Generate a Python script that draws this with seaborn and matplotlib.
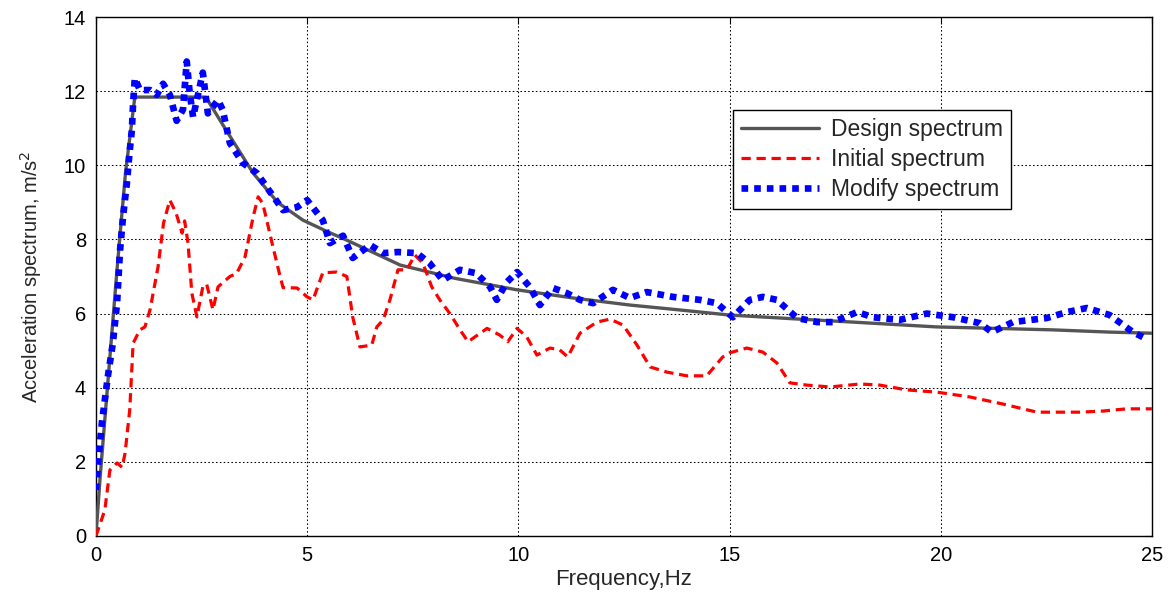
import matplotlib
matplotlib.use("Agg")
import matplotlib.pyplot as plt
import seaborn as sns
import pandas as pd

# Design spectrum
design_f = [0.0, 0.1, 0.3, 0.5, 0.7, 0.92, 1.5, 2.0, 2.6, 3.0, 3.72, 4.3, 4.9, 5.5, 5.94, 7.2, 8.5,
            9.97, 11.3, 12.64, 13.8, 15.0, 16.5, 17.92, 19.9, 21.3, 22.66, 24.0, 25.0]
design_a = [0.0, 1.6, 4.4, 7.2, 9.8, 11.84, 11.84, 11.84, 11.84, 11.1, 9.79, 9.0, 8.52, 8.2, 7.98, 7.31, 6.95,
            6.64, 6.42, 6.23, 6.1, 5.96, 5.86, 5.77, 5.64, 5.6, 5.56, 5.5, 5.47]

# Initial spectrum
init_f = [0.0, 0.21, 0.33, 0.5, 0.62, 0.69, 0.8, 0.88, 1.04, 1.16, 1.28, 1.47, 1.6, 1.75, 1.9, 2.04, 2.1,
          2.18, 2.27, 2.39, 2.53, 2.62, 2.77, 2.89, 3.17, 3.33, 3.53, 3.72, 3.84, 3.95, 4.17, 4.36, 4.43,
          4.76, 5.0, 5.14, 5.37, 5.7, 5.94, 6.08, 6.25, 6.53, 6.65, 6.8, 6.96, 7.15, 7.36, 7.55, 7.74,
          7.95, 8.14, 8.38, 8.62, 8.81, 9.26, 9.56, 9.75, 9.97, 10.2, 10.44, 10.75, 10.98, 11.17, 11.46,
          11.86, 12.17, 12.48, 12.81, 13.12, 13.52, 13.99, 14.46, 14.84, 15.0, 15.41, 15.79, 16.12, 16.43,
          16.83, 17.38, 18.09, 18.56, 19.2, 19.91, 20.69, 21.47, 22.28, 23.3, 23.84, 24.4, 25.0]
init_a = [0.0, 0.7, 1.78, 1.97, 1.85, 2.24, 3.4, 5.2, 5.56, 5.64, 6.1, 7.26, 8.44, 9.06, 8.7, 8.17, 8.5,
          7.9, 6.55, 5.91, 6.72, 6.8, 6.1, 6.72, 7.0, 7.08, 7.53, 8.6, 9.15, 8.97, 7.9, 7.0, 6.7,
          6.69, 6.45, 6.37, 7.1, 7.12, 7.0, 5.9, 5.1, 5.15, 5.64, 5.83, 6.37, 7.18, 7.18, 7.58, 7.36,
          6.72, 6.37, 6.0, 5.56, 5.24, 5.6, 5.42, 5.24, 5.6, 5.37, 4.88, 5.07, 5.02, 4.83, 5.47,
          5.77, 5.85, 5.69, 5.15, 4.56, 4.42, 4.32, 4.32, 4.83, 4.94, 5.07, 4.96, 4.67, 4.13,
          4.07, 4.02, 4.1, 4.07, 3.94, 3.88, 3.75, 3.56, 3.34, 3.34, 3.37, 3.43, 3.43]

# Modified spectrum
mod_f = [0.0, 0.05, 0.14, 0.21, 0.28, 0.4, 0.5, 0.57, 0.64, 0.73, 0.8, 0.85, 0.88, 0.92, 1.04, 1.28, 1.44,
         1.59, 1.75, 1.91, 2.06, 2.15, 2.22, 2.3, 2.53, 2.65, 2.89, 3.0, 3.17, 3.48, 3.81, 4.05, 4.43,
         4.76, 5.0, 5.37, 5.54, 5.85, 6.08, 6.49, 6.8, 7.15, 7.6, 7.9, 8.21, 8.62, 9.0, 9.33, 9.49,
         9.73, 9.97, 10.27, 10.51, 10.82, 11.15, 11.46, 11.77, 12.24, 12.64, 13.04, 13.66, 14.3, 14.7,
         15.08, 15.48, 15.79, 16.12, 16.6, 17.07, 17.45, 18.02, 18.4, 19.03, 19.67, 20.3, 20.93, 21.21,
         21.71, 22.51, 22.99, 23.46, 24.0, 24.55, 24.9]
mod_a = [1.24, 1.97, 3.05, 3.67, 4.29, 5.2, 6.28, 7.7, 8.6, 9.5, 10.4, 10.95, 11.68, 12.35, 12.03, 12.03, 11.9,
         12.2, 11.9, 11.2, 11.5, 12.8, 11.95, 11.3, 12.5, 11.4, 11.76, 11.5, 10.6, 10.06, 9.79, 9.4, 8.79,
         8.87, 9.06, 8.52, 7.9, 8.1, 7.5, 7.85, 7.63, 7.66, 7.63, 7.36, 6.9, 7.18, 7.09, 6.72, 6.37,
         6.85, 7.12, 6.72, 6.23, 6.69, 6.55, 6.37, 6.28, 6.64, 6.42, 6.58, 6.45, 6.37, 6.28,
         5.9, 6.37, 6.45, 6.37, 5.88, 5.77, 5.77, 6.04, 5.9, 5.83, 6.0, 5.9, 5.74, 5.5,
         5.77, 5.88, 6.04, 6.15, 5.96, 5.5, 5.3]

x_ticks = [0, 5, 10, 15, 20, 25]
y_ticks = [0, 2, 4, 6, 8, 10, 12, 14]

sns.set_style("white")
plt.rcParams['font.family'] = ['Liberation Sans', 'DejaVu Sans']

fig = plt.figure(figsize=(11.73, 5.95), dpi=100)
ax = fig.add_axes([0.0818, 0.0992, 0.9002, 0.8722])

d1 = pd.DataFrame({"f": design_f, "a": design_a})
d2 = pd.DataFrame({"f": init_f, "a": init_a})
d3 = pd.DataFrame({"f": mod_f, "a": mod_a})

sns.lineplot(data=d1, x="f", y="a", ax=ax, color="#555555", linewidth=2.4,
             label="Design spectrum", sort=False, zorder=3)
sns.lineplot(data=d2, x="f", y="a", ax=ax, color="#ff0000", linewidth=2.3,
             linestyle=(0, (2.9, 1.8)), label="Initial spectrum", sort=False, zorder=3)
sns.lineplot(data=d3, x="f", y="a", ax=ax, color="#0000ff", linewidth=4.8,
             linestyle=(0, (1.0, 0.9)), label="Modify spectrum", sort=False, zorder=4)

ax.set_xlim(0, 25)
ax.set_ylim(0, 14)
ax.set_xticks(x_ticks)
ax.set_yticks(y_ticks)
ax.tick_params(direction="in", length=5, width=0.8, labelsize=14.5, top=True, right=True,
               colors="black", pad=7)
ax.grid(True, color="black", linestyle=(0, (1.5, 2.2)), linewidth=0.75)
for s in ax.spines.values():
    s.set_color("black")
    s.set_linewidth(1.0)
    s.set_visible(True)

ax.set_xlabel("Frequency,Hz", fontsize=16, labelpad=3)
ax.set_ylabel("Acceleration spectrum, m/s$^2$", fontsize=14.5, labelpad=14)

leg = ax.legend(loc="upper left", bbox_to_anchor=(0.603, 0.821), fontsize=16.5,
                frameon=True, fancybox=False, edgecolor="black", framealpha=1,
                handlelength=3.4, borderpad=0.35, labelspacing=0.3, handletextpad=0.55,
                borderaxespad=0.0)
leg.get_frame().set_linewidth(1.0)

fig.savefig("out.png", dpi=100, facecolor="white")
